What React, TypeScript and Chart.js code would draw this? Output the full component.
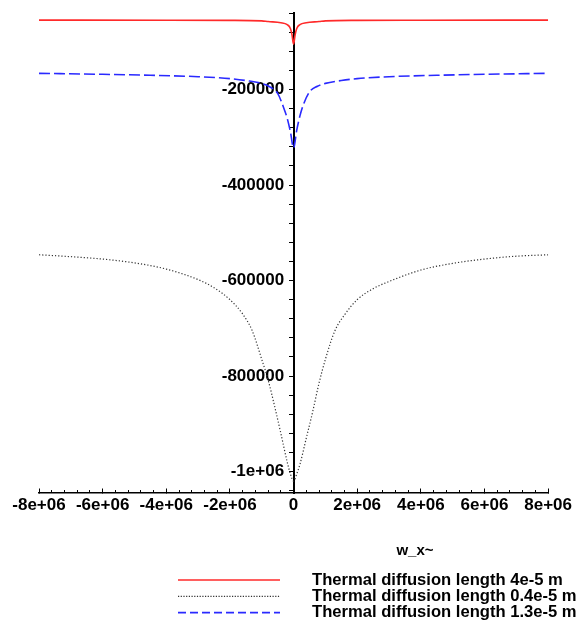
import React, { useEffect, useRef } from 'react';
import { Chart, registerables } from 'chart.js';

Chart.register(...registerables);

// ---- data (x in w_x units, y values) ----
const seriesLabels = [
  'Thermal diffusion length 4e-5 m',
  'Thermal diffusion length 0.4e-5 m',
  'Thermal diffusion length 1.3e-5 m',
];

const redX = [-8e6, -4e6, -2e6, -1e6, -0.8e6, -0.4e6, -0.2e6, -0.1e6, -0.05e6, 0, 0.05e6, 0.1e6, 0.2e6, 0.4e6, 0.8e6, 1e6, 2e6, 4e6, 8e6];
const redY = [-54500, -54700, -55000, -56000, -57500, -60000, -64000, -72000, -85000, -105000, -85000, -72000, -64000, -60000, -57500, -56000, -55000, -54700, -54500];

const blackX = [-8e6, -7e6, -6e6, -5e6, -4e6, -3e6, -2.5e6, -2e6, -1.6e6, -1.3e6, -1e6, -0.8e6, -0.6e6, -0.4e6, -0.2e6, -0.1e6, 0, 0.1e6, 0.2e6, 0.4e6, 0.6e6, 0.8e6, 1e6, 1.3e6, 1.6e6, 2e6, 2.5e6, 3e6, 4e6, 5e6, 6e6, 7e6, 8e6];
const blackY = [-546000, -550000, -555000, -563000, -576000, -598000, -615000, -640000, -670000, -705000, -765000, -808000, -862000, -920000, -980000, -1005000, -1020000, -1005000, -985000, -930000, -875000, -815000, -765000, -705000, -672000, -640000, -617000, -602000, -578000, -564000, -555000, -549000, -546000];

const blueX = [-8e6, -6e6, -4.5e6, -3e6, -2e6, -1.5e6, -1e6, -0.75e6, -0.5e6, -0.3e6, -0.2e6, -0.1e6, 0, 0.1e6, 0.2e6, 0.3e6, 0.5e6, 0.75e6, 1e6, 1.5e6, 2e6, 3e6, 4.5e6, 6e6, 8e6];
const blueY = [-166000, -168000, -170000, -173000, -177000, -181000, -187000, -194000, -208000, -240000, -260000, -288000, -322000, -285000, -255000, -233000, -205000, -193000, -187000, -181000, -177000, -173000, -170000, -168000, -166000];

// ---- ticks ----
const xMajorTicks = [-8e6, -6e6, -4e6, -2e6, 0, 2e6, 4e6, 6e6, 8e6];
const xTickLabels = ['-8e+06', '-6e+06', '-4e+06', '-2e+06', '0', '2e+06', '4e+06', '6e+06', '8e+06'];
const yMajorTicks = [-200000, -400000, -600000, -800000, -1000000];
const yTickLabels = ['-200000', '-400000', '-600000', '-800000', '-1e+06'];
const xAxisTitle = 'w_x~';

const X_MIN = -8e6;
const X_MAX = 8e6;
const Y_MIN = -1045000;
const Y_MAX = -40000;
const X_MINOR_STEP = 4e5;
const Y_MINOR_STEP = 40000;

const FONT = '"Liberation Sans", Arial, Helvetica, sans-serif';

export default function App() {
  const ref = useRef<HTMLCanvasElement>(null);

  useEffect(() => {
    if (!ref.current) return;
    const pts = (xs: number[], ys: number[]) => xs.map((x, i) => ({ x, y: ys[i] }));

    const xMinor: number[] = [];
    for (let v = X_MIN; v <= X_MAX + 1; v += X_MINOR_STEP) xMinor.push(Math.round(v));
    const yMinor: number[] = [];
    for (let v = Y_MAX; v >= Y_MIN; v -= Y_MINOR_STEP) yMinor.push(Math.round(v));

    const overlay = {
      id: 'mapleLegend',
      afterDraw(chart: any) {
        const ctx = chart.ctx;
        ctx.save();
        chart.data.datasets.forEach((ds: any, i: number) => {
          const y = 580 + i * 16.3;
          ctx.strokeStyle = ds.borderColor;
          ctx.lineWidth = ds.borderWidth;
          ctx.setLineDash(ds.legendDash || []);
          ctx.beginPath();
          ctx.moveTo(178, y);
          ctx.lineTo(280, y);
          ctx.stroke();
          ctx.setLineDash([]);
          ctx.fillStyle = '#000';
          ctx.font = `bold 16.6px ${FONT}`;
          ctx.textAlign = 'left';
          ctx.textBaseline = 'middle';
          ctx.fillText(ds.label, 312, y);
        });
        ctx.font = `bold 15px ${FONT}`;
        ctx.textAlign = 'center';
        ctx.textBaseline = 'middle';
        ctx.fillStyle = '#000';
        ctx.fillText(xAxisTitle, 415, 551);
        ctx.restore();
      },
    };

    const chart = new Chart(ref.current, {
      type: 'line',
      data: {
        datasets: [
          {
            label: seriesLabels[0],
            data: pts(redX, redY),
            borderColor: '#ff2a2a',
            borderWidth: 1.6,
            pointRadius: 0,
            cubicInterpolationMode: 'monotone',
            fill: false,
          } as any,
          {
            label: seriesLabels[1],
            data: pts(blackX, blackY),
            borderColor: '#333333',
            borderWidth: 1.2,
            borderDash: [1.2, 2],
            legendDash: [1.2, 1.5],
            pointRadius: 0,
            cubicInterpolationMode: 'monotone',
            fill: false,
          } as any,
          {
            label: seriesLabels[2],
            data: pts(blueX, blueY),
            borderColor: '#2a2aff',
            borderWidth: 1.6,
            borderDash: [11, 4],
            legendDash: [8, 4],
            pointRadius: 0,
            cubicInterpolationMode: 'monotone',
            fill: false,
          } as any,
        ],
      },
      options: {
        animation: false,
        responsive: true,
        maintainAspectRatio: false,
        layout: { padding: { left: 39, right: 25, top: 13, bottom: 133 } },
        plugins: { legend: { display: false }, tooltip: { enabled: false } },
        scales: {
          x: {
            type: 'linear',
            min: X_MIN,
            max: X_MAX,
            position: { y: Y_MIN } as any,
            afterBuildTicks: (s: any) => {
              s.ticks = xMajorTicks.map((v) => ({ value: v }));
            },
            ticks: {
              autoSkip: false,
              maxRotation: 0,
              padding: 7,
              color: '#000',
              font: { family: FONT, size: 17, weight: 'bold' },
              callback: (v: any) => {
                const i = xMajorTicks.indexOf(Number(v));
                return i >= 0 ? xTickLabels[i] : '';
              },
            },
            grid: { drawOnChartArea: false, tickLength: -5, color: '#000', lineWidth: 1 },
            border: { display: true, color: '#000', width: 1.5 },
          },
          xm: {
            type: 'linear',
            axis: 'x',
            min: X_MIN,
            max: X_MAX,
            position: { y: Y_MIN } as any,
            afterBuildTicks: (s: any) => {
              s.ticks = xMinor.map((v) => ({ value: v }));
            },
            ticks: { display: false },
            grid: { drawOnChartArea: false, tickLength: -3, color: '#000', lineWidth: 1 },
            border: { display: false },
          } as any,
          y: {
            type: 'linear',
            min: Y_MIN,
            max: Y_MAX,
            bounds: 'data',
            position: { x: 0 } as any,
            afterBuildTicks: (s: any) => {
              s.ticks = yMinor.map((v) => ({ value: v }));
            },
            ticks: {
              autoSkip: false,
              color: '#000',
              font: { family: FONT, size: 17, weight: 'bold' },
              callback: (v: any) => {
                const i = yMajorTicks.findIndex((t) => Math.abs(t - Number(v)) < 1);
                // trailing spaces keep the right-aligned label clear of the axis
                return i >= 0 ? yTickLabels[i] + '  ' : '';
              },
            },
            grid: { drawOnChartArea: false, tickLength: 4, color: '#000', lineWidth: 1 },
            border: { display: true, color: '#000', width: 2 },
          },
        },
      } as any,
      plugins: [overlay],
    });

    return () => chart.destroy();
  }, []);

  return (
    <div style={{ position: 'absolute', left: 0, top: 0, width: 579, height: 626 }}>
      <canvas ref={ref} />
    </div>
  );
}
